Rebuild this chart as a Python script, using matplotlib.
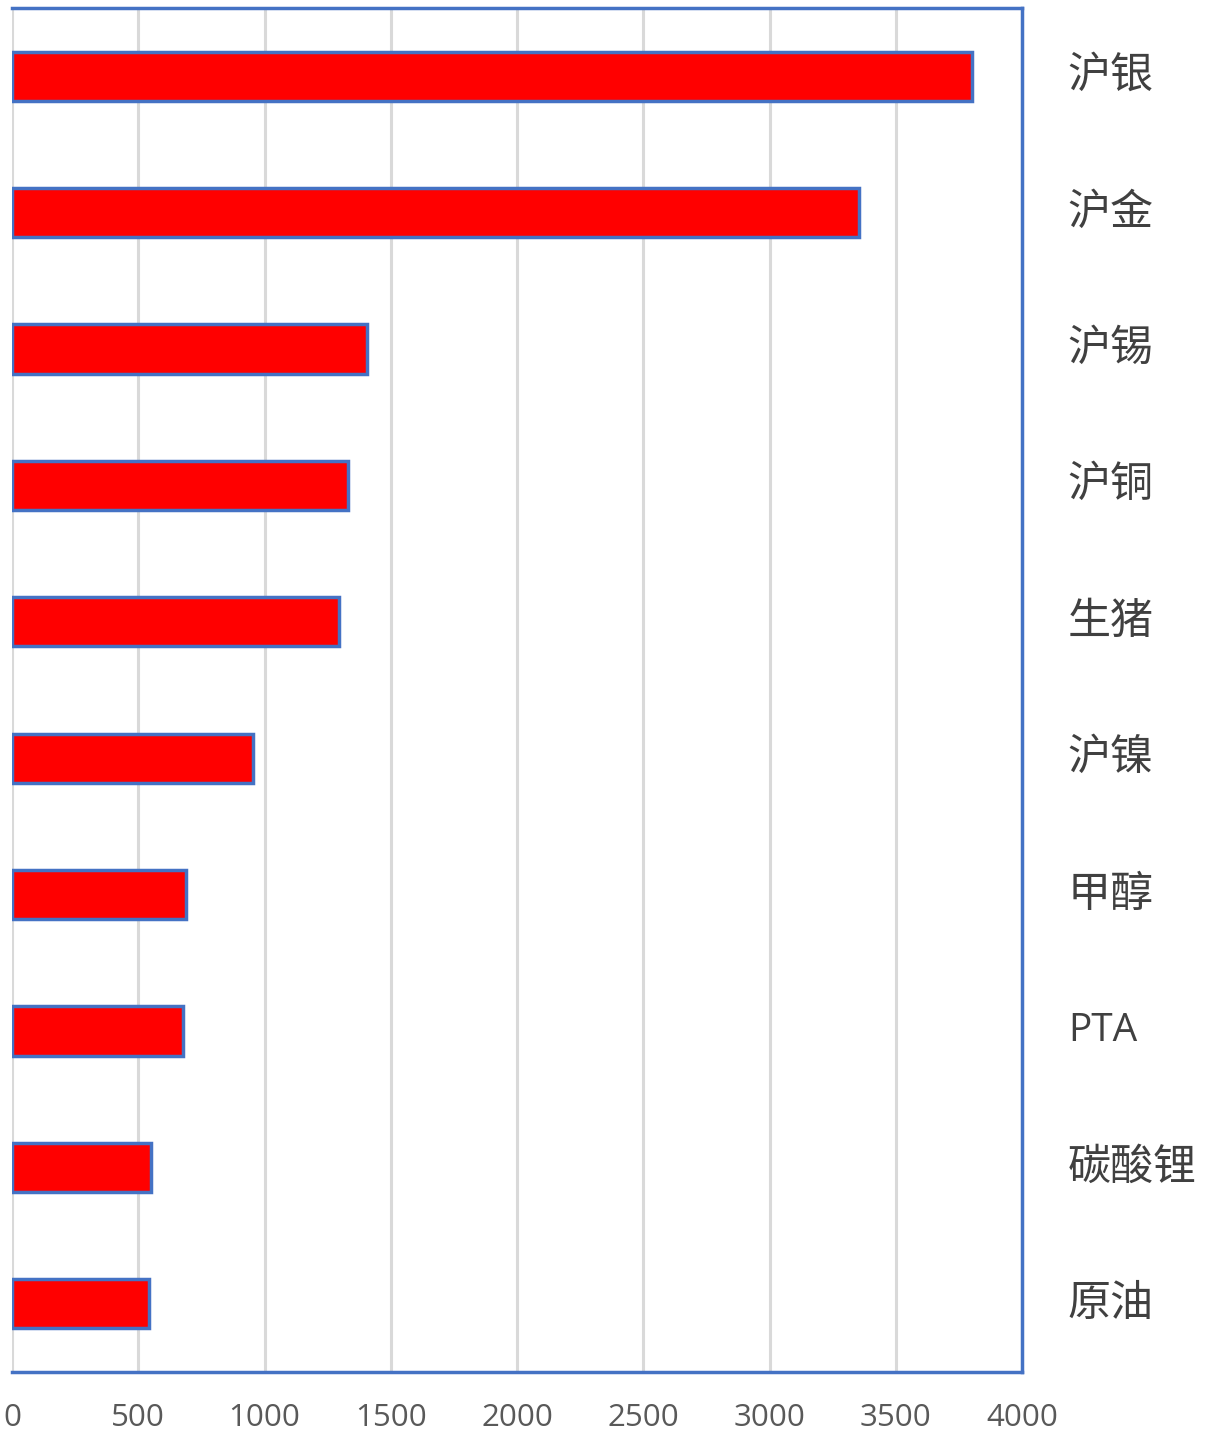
import matplotlib
matplotlib.use("Agg")
import matplotlib.pyplot as plt

categories = ["沪银", "沪金", "沪锡", "沪铜", "生猪", "沪镍", "甲醇", "PTA", "碳酸锂", "原油"]
values = [3802, 3354, 1406, 1331, 1295, 954, 689, 677, 550, 543]
xticks = [0, 500, 1000, 1500, 2000, 2500, 3000, 3500, 4000]

plt.rcParams['font.family'] = ['Noto Sans CJK SC', 'DejaVu Sans']

fig = plt.figure(figsize=(12.11, 14.33), dpi=100)
ax = fig.add_axes([12/1211, 61/1433, 1010/1211, 1364/1433])

ypos = list(range(len(categories)))
ax.barh(ypos, values, height=0.36, color="#FF0000", edgecolor="#4472C4", linewidth=2.5, zorder=3)

ax.set_xlim(0, 4000)
ax.set_ylim(len(categories) - 0.5, -0.5)
ax.set_xticks(xticks)
ax.set_xticklabels([str(t) for t in xticks], fontsize=22.5, color="#595959", family=['Open Sans', 'DejaVu Sans'])
ax.xaxis.grid(True, color="#D9D9D9", linewidth=2.2, zorder=0)
ax.set_axisbelow(True)

ax.yaxis.tick_right()
ax.set_yticks(ypos)
ax.set_yticklabels(categories, fontsize=31, color="#404040")
for lab in ax.get_yticklabels():
    lab.set_horizontalalignment('left')
    lab.set_verticalalignment('center')
    if lab.get_text() == "PTA":
        lab.set_family(['Open Sans', 'DejaVu Sans'])
        lab.set_fontsize(28)
ax.tick_params(axis='y', length=0, pad=33)
ax.tick_params(axis='x', length=0, pad=22)

for side in ['top', 'right', 'bottom']:
    ax.spines[side].set_color("#4472C4")
    ax.spines[side].set_linewidth(2.5)
ax.spines['left'].set_visible(False)

fig.savefig("out.png", dpi=100)
